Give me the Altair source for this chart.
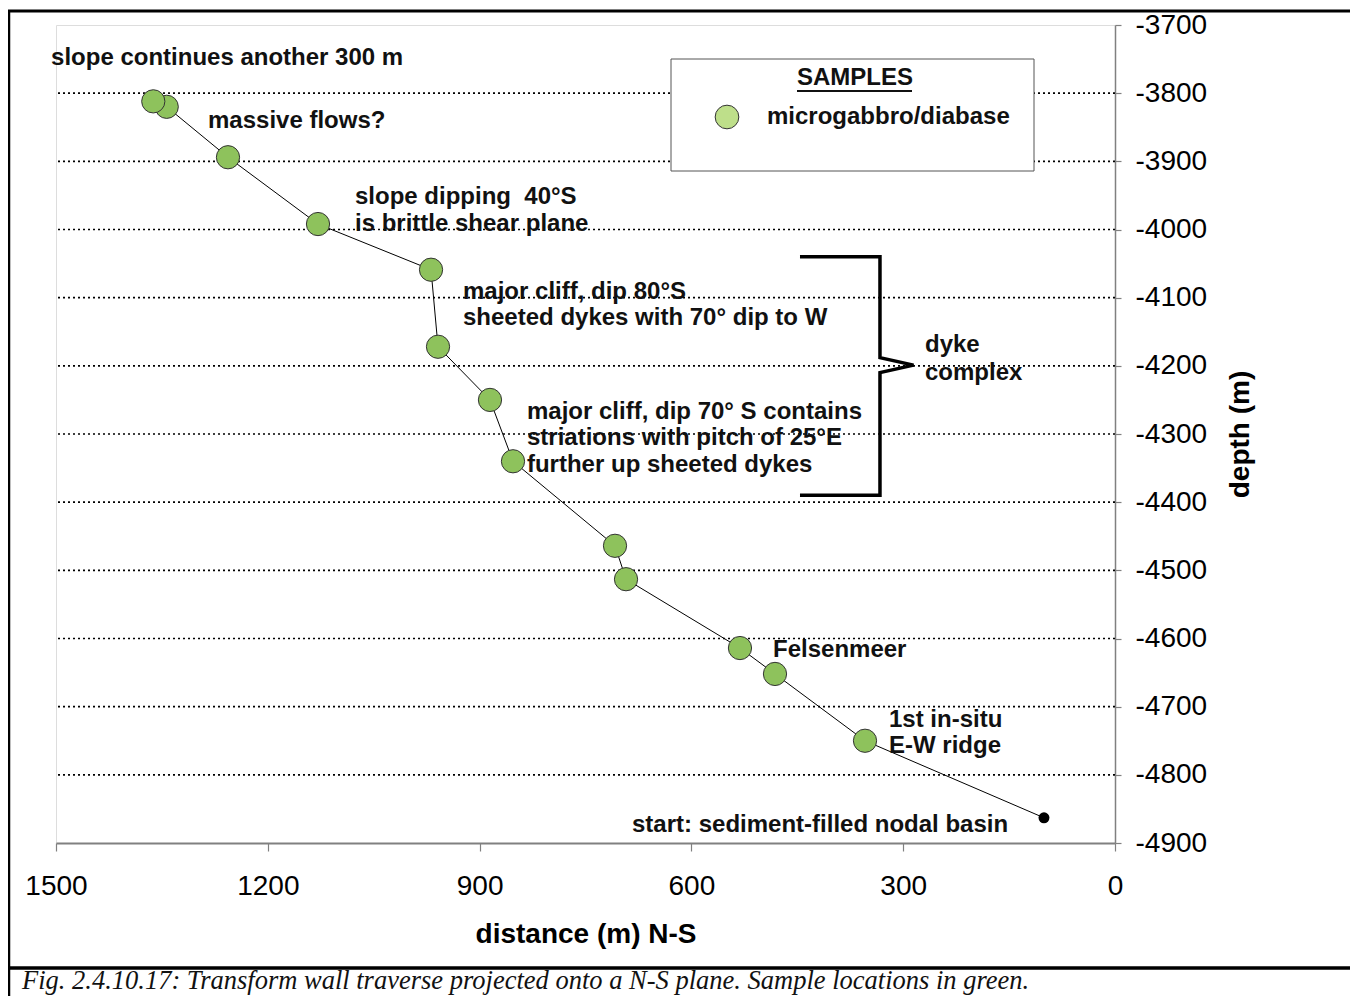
import altair as alt
import pandas as pd

# ---------------- data ----------------
# traverse points, in walking order (start at the nodal basin)
distance = [100.6, 354.1, 481.6, 531.2, 692.6, 708.2, 852.7, 885.3, 958.9, 968.8, 1128.9, 1256.4, 1343.2, 1362.2]
depth = [-4863, -4750, -4652, -4614, -4513, -4464, -4340, -4250, -4172, -4059, -3992, -3894, -3820, -3812]
kind = ["start"] + ["microgabbro/diabase"] * 13

# annotation lines (left anchor, vertical middle)
ann_text = [
    "slope continues another 300 m",
    "massive flows?",
    "slope dipping \u00a040°S",
    "is brittle shear plane",
    "major cliff, dip 80°S",
    "sheeted dykes with 70° dip to W",
    "dyke",
    "complex",
    "major cliff, dip 70° S contains",
    "striations with pitch of 25°E",
    "further up sheeted dykes",
    "Felsenmeer",
    "1st in-situ",
    "E-W ridge",
    "start: sediment-filled nodal basin",
]
ann_dist = [1507, 1284.7, 1076.5, 1076.5, 923.5, 923.5, 269.1, 269.1, 832.9, 832.9, 832.9, 484.4, 320.1, 320.1, 684.1]
ann_depth = [-3749, -3841, -3953, -3992, -4091, -4130, -4170, -4210, -4267, -4306, -4346, -4617, -4719, -4758, -4873]

# bracket marking the dyke complex
br_dist = [446.2, 332.9, 332.9, 285.4, 332.9, 332.9, 446.2]
br_depth = [-4040, -4040, -4188, -4199, -4210, -4390, -4390]

grid_depth = [-3800, -3900, -4000, -4100, -4200, -4300, -4400, -4500, -4600, -4700, -4800]
x_ticks = [1500, 1200, 900, 600, 300, 0]
y_ticks = [-3700, -3800, -3900, -4000, -4100, -4200, -4300, -4400, -4500, -4600, -4700, -4800, -4900]

legend_title = "SAMPLES"
legend_label = "microgabbro/diabase"
caption = "Fig. 2.4.10.17: Transform wall traverse projected onto a N-S plane. Sample locations in green."

# ---------------- frames ----------------
pts = pd.DataFrame({"distance": distance, "depth": depth, "kind": kind, "step": range(len(distance))})
ann = pd.DataFrame({"distance": ann_dist, "depth": ann_depth, "label": ann_text})
br = pd.DataFrame({"distance": br_dist, "depth": br_depth, "step": range(len(br_dist))})
grid = pd.DataFrame({"depth": grid_depth})
one = pd.DataFrame({"a": [0]})

FONT = "Liberation Sans"
W, H = 1059, 818

x_enc = alt.X(
    "distance:Q",
    scale=alt.Scale(domain=[1500, 0], nice=False, zero=False),
    axis=alt.Axis(
        values=x_ticks, orient="bottom", grid=False,
        labelExpr="'' + datum.value",
        labelFont=FONT, labelFontSize=28, labelColor="#000", labelPadding=21,
        labelFlush=False, labelOverlap=False,
        tickSize=8, tickColor="#808080", tickWidth=1.2,
        domainColor="#808080", domainWidth=2,
        title="distance (m) N-S", titleFont=FONT, titleFontSize=28, titleFontWeight="bold",
        titleColor="#000", titleX=W / 2, titleY=91, titleBaseline="middle", titleAlign="center",
    ),
)
y_enc = alt.Y(
    "depth:Q",
    scale=alt.Scale(domain=[-4900, -3700], nice=False, zero=False),
    axis=alt.Axis(
        values=y_ticks, orient="right", grid=False,
        labelExpr="'' + datum.value",
        labelFont=FONT, labelFontSize=28, labelColor="#000", labelPadding=14,
        labelFlush=False, labelOverlap=False,
        tickSize=6, tickColor="#808080", tickWidth=1.2,
        domainColor="#808080", domainWidth=1.5,
        title="depth (m)", titleFont=FONT, titleFontSize=28, titleFontWeight="bold",
        titleColor="#000", titleAngle=270, titleX=125, titleY=H / 2,
        titleBaseline="middle", titleAlign="center",
    ),
)

gridlines = alt.Chart(grid).mark_rule(color="#000", strokeDash=[2, 3], strokeWidth=1.6).encode(y=y_enc)

legend_box = alt.Chart(one).mark_rect(fill="white", stroke="#555", strokeWidth=1).encode(
    x=alt.value(615), x2=alt.value(978), y=alt.value(34), y2=alt.value(146)
)

path = alt.Chart(pts).mark_line(color="#000", strokeWidth=1).encode(x=x_enc, y=y_enc, order="step:Q")

samples = alt.Chart(pts).transform_filter(alt.datum.kind == "microgabbro/diabase").mark_point(
    shape="circle", filled=True, size=540, fill="#8EC25C", stroke="#333", strokeWidth=1, opacity=1
).encode(x=x_enc, y=y_enc)

start = alt.Chart(pts).transform_filter(alt.datum.kind == "start").mark_point(
    shape="circle", filled=True, size=120, fill="#000", opacity=1
).encode(x=x_enc, y=y_enc)

bracket = alt.Chart(br).mark_line(color="#000", strokeWidth=3.5, strokeJoin="miter").encode(
    x=x_enc, y=y_enc, order="step:Q"
)

labels = alt.Chart(ann).mark_text(
    align="left", baseline="middle", font=FONT, fontSize=24, fontWeight="bold", color="#111"
).encode(x=x_enc, y=y_enc, text="label:N")

leg_title = alt.Chart(one).mark_text(
    align="center", baseline="middle", font=FONT, fontSize=24, fontWeight="bold", color="#111"
).encode(x=alt.value(799), y=alt.value(53), text=alt.value(legend_title))
leg_underline = alt.Chart(one).mark_rule(color="#111", strokeWidth=2).encode(
    x=alt.value(741), x2=alt.value(856), y=alt.value(66)
)
leg_symbol = alt.Chart(one).mark_point(
    shape="circle", filled=True, size=560, fill="#BEDF8A", stroke="#333", strokeWidth=1, opacity=1
).encode(x=alt.value(671), y=alt.value(92))
leg_label = alt.Chart(one).mark_text(
    align="left", baseline="middle", font=FONT, fontSize=24, fontWeight="bold", color="#111"
).encode(x=alt.value(711), y=alt.value(92), text=alt.value(legend_label))

frame_top = alt.Chart(one).mark_rule(color="#000", strokeWidth=3).encode(
    x=alt.value(-48), x2=alt.value(1300), y=alt.value(-14)
)
frame_left = alt.Chart(one).mark_rule(color="#000", strokeWidth=2.5).encode(
    x=alt.value(-47), y=alt.value(-15), y2=alt.value(1000)
)
frame_bottom = alt.Chart(one).mark_rule(color="#000", strokeWidth=3.5).encode(
    x=alt.value(-48), x2=alt.value(1300), y=alt.value(943)
)
cap = alt.Chart(one).mark_text(
    align="left", baseline="middle", font="Liberation Serif", fontSize=26.5, fontStyle="italic", color="#111"
).encode(x=alt.value(-34), y=alt.value(956), text=alt.value(caption))

chart = alt.layer(
    gridlines, legend_box, path, samples, start, bracket, labels,
    leg_title, leg_underline, leg_symbol, leg_label,
    frame_top, frame_left, frame_bottom, cap,
).properties(
    width=W, height=H,
    autosize=alt.AutoSizeParams(type="none"),
    padding={"left": 48, "top": 17, "right": 235, "bottom": 153},
).configure_view(stroke=None).configure(background="white")

chart.save("out.html", embed_options={"renderer": "svg", "actions": False})
